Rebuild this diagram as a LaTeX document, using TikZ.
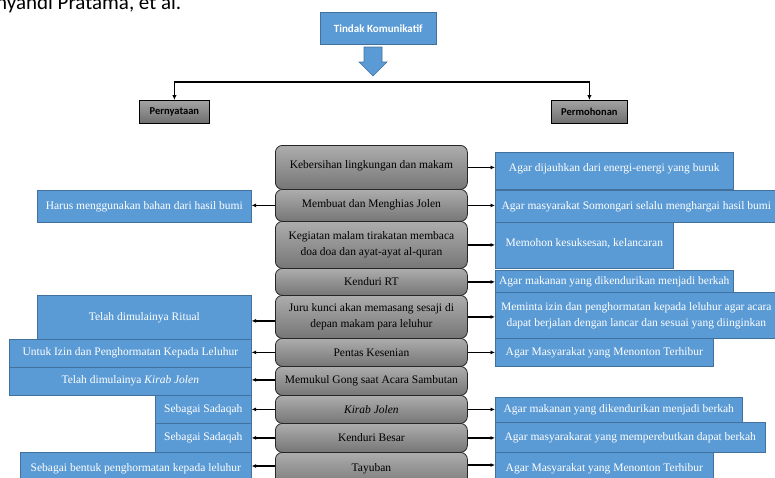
\documentclass[tikz,border=0pt]{standalone}
\usepackage{fontspec}
\setmainfont{Liberation Serif}
\newfontfamily\calib{Carlito}
\usetikzlibrary{arrows.meta,calc}
\definecolor{bfill}{HTML}{5B9BD5}
\definecolor{bdraw}{HTML}{41719C}
\definecolor{ctop}{HTML}{ADADAD}
\definecolor{cbot}{HTML}{767676}
\definecolor{htop}{HTML}{A3A3A3}
\definecolor{hbot}{HTML}{6E6E6E}
\begin{document}
\begin{tikzpicture}[x=1pt,y=-1pt,
  cbox/.style={draw=black!85, line width=0.8pt, rounded corners=7pt, top color=ctop, bottom color=cbot,
    anchor=north west, inner sep=0pt, align=center, font=\fontsize{11.5}{16}\selectfont, text=black},
  bbox/.style={draw=bdraw, fill=bfill, line width=0.6pt, text=white, anchor=north west,
    inner sep=0pt, align=center, font=\fontsize{11.5}{16}\selectfont},
  hbox/.style={draw=black, line width=0.8pt, top color=htop, bottom color=hbot, anchor=north west,
    inner sep=0pt, font=\calib\bfseries\fontsize{10.5}{12}\selectfont, text=black},
  arr/.style={-{Latex[length=4.5pt,width=4pt]}, line width=1.2pt, black},
  tree/.style={-{Latex[length=5pt,width=4.5pt]}, line width=1.3pt, black}
]
\useasboundingbox (0,0) rectangle (775,477);

% header text (cut off at top, as in the reference)
\node[font=\calib\fontsize{21}{24}\selectfont, anchor=base west, inner sep=0pt] (hdr) at (-4,9) {nyandi Pratama, et al.};

% top
\node[draw=bdraw, fill=bfill, line width=0.6pt, anchor=north west, minimum width=116pt, minimum height=32pt,
  inner sep=0pt, text=white, font=\calib\bfseries\fontsize{11}{13}\selectfont] (tk) at (320,12) {Tindak Komunikatif};
\draw[draw=bdraw, fill=bfill, line width=0.6pt] (364,47) -- (382,47) -- (382,62) -- (387,62) -- (373,76) -- (359,62) -- (364,62) -- cycle;

\node[hbox, minimum width=70pt, minimum height=23pt] (pern) at (139,100) {Pernyataan};
\node[hbox, minimum width=76pt, minimum height=23pt] (permo) at (551,100) {Permohonan};
\coordinate (split) at (373,82);
\draw[tree] (split) -| (pern.north);
\draw[tree] (split) -| (permo.north);

% centre column
\node[cbox, minimum width=192pt, minimum height=44pt] (c1) at (275,145) {\raisebox{5pt}{Kebersihan lingkungan dan makam}};
\node[cbox, minimum width=192pt, minimum height=32pt] (c2) at (275,189) {\raisebox{3pt}{Membuat dan Menghias Jolen}};
\node[cbox, minimum width=192pt, minimum height=47pt] (c3) at (275,221) {Kegiatan malam tirakatan membaca\\doa doa dan ayat-ayat al-quran};
\node[cbox, minimum width=192pt, minimum height=27pt] (c4) at (275,268) {Kenduri RT};
\node[cbox, minimum width=192pt, minimum height=43pt] (c5) at (275,295) {Juru kunci akan memasang sesaji di\\depan makam para leluhur};
\node[cbox, minimum width=192pt, minimum height=28pt] (c6) at (275,338) {Pentas Kesenian};
\node[cbox, minimum width=192pt, minimum height=29pt] (c7) at (275,366) {Memukul Gong saat Acara Sambutan};
\node[cbox, minimum width=192pt, minimum height=28pt] (c8) at (275,395) {\textit{Kirab Jolen}};
\node[cbox, minimum width=192pt, minimum height=29pt] (c9) at (275,423) {Kenduri Besar};
\node[cbox, minimum width=192pt, minimum height=36pt] (c10) at (275,452) {\raisebox{5pt}{Tayuban}};

% right column
\node[bbox, minimum width=238pt, minimum height=37pt] (r1) at (495,152) {\raisebox{6pt}{Agar dijauhkan dari energi-energi yang buruk}};
\node[bbox, minimum width=282pt, minimum height=32pt] (r2) at (495,190) {Agar masyarakat Somongari selalu menghargai hasil bumi};
\node[bbox, minimum width=178pt, minimum height=46pt] (r3) at (495,222) {\raisebox{5pt}{Memohon kesuksesan, kelancaran}};
\node[bbox, minimum width=238pt, minimum height=22pt] (r4) at (495,270) {Agar makanan yang dikendurikan menjadi berkah};
\node[bbox, minimum width=282pt, minimum height=46pt] (r5) at (495,292) {Meminta izin dan penghormatan kepada leluhur agar acara\\dapat berjalan dengan lancar dan sesuai yang diinginkan};
\node[bbox, minimum width=218pt, minimum height=28pt] (r6) at (495,338) {Agar Masyarakat yang Menonton Terhibur};
\node[bbox, minimum width=247pt, minimum height=25pt] (r8) at (495,397) {Agar makanan yang dikendurikan menjadi berkah};
\node[bbox, minimum width=270pt, minimum height=30pt] (r9) at (495,422) {Agar masyarakarat yang memperebutkan dapat berkah};
\node[bbox, minimum width=218pt, minimum height=34pt] (r10) at (495,452) {\raisebox{4pt}{Agar Masyarakat yang Menonton Terhibur}};

% left column
\node[bbox, minimum width=214pt, minimum height=32pt] (l2) at (37,190) {Harus menggunakan bahan dari hasil bumi};
\node[bbox, minimum width=214pt, minimum height=44pt] (l5) at (37,295) {Telah dimulainya Ritual};
\node[bbox, minimum width=242pt, minimum height=28pt] (l6) at (9,339) {\raisebox{3pt}{Untuk Izin dan Penghormatan Kepada Leluhur}};
\node[bbox, minimum width=242pt, minimum height=28pt] (l7) at (9,367) {\raisebox{4pt}{Telah dimulainya \textit{Kirab Jolen}}};
\node[bbox, minimum width=96pt, minimum height=28pt] (l8) at (155,395) {Sebagai Sadaqah};
\node[bbox, minimum width=96pt, minimum height=29pt] (l9) at (155,423) {Sebagai Sadaqah};
\node[bbox, minimum width=231pt, minimum height=34pt] (l10) at (20,452) {\raisebox{4pt}{Sebagai bentuk penghormatan kepada leluhur}};

% right arrows
\foreach \c/\r in {c1/r1,c2/r2,c3/r3,c4/r4,c5/r5,c6/r6,c8/r8,c9/r9}
  \draw[arr] (\c.east) -- (\c.east -| \r.west);
\draw[arr] ($(c10.north east)+(0,13)$) -- ($(c10.north east -| r10.west)+(0,13)$);

% left arrows
\foreach \c/\l in {c2/l2,c6/l6,c8/l8,c9/l9}
  \draw[arr] (\c.west) -- (\c.west -| \l.east);
\draw[arr] ($(c5.west)+(0,4)$) -- ($(c5.west -| l5.east)+(0,4)$);
\draw[arr] ($(c7.west)+(0,-1)$) -- ($(c7.west -| l7.east)+(0,-1)$);
\draw[arr] ($(c10.north west)+(0,14)$) -- ($(c10.north west -| l10.east)+(0,14)$);
\end{tikzpicture}
\end{document}
